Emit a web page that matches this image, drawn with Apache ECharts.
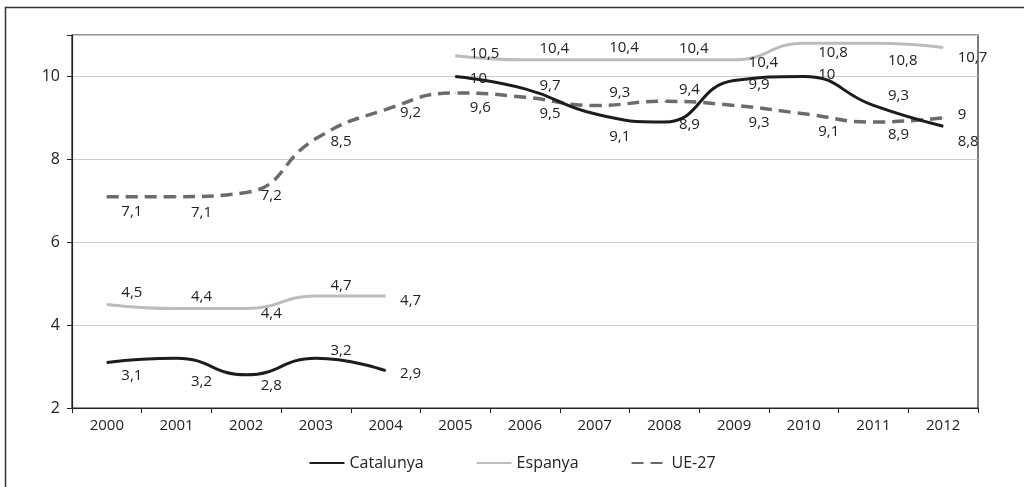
<!DOCTYPE html>
<html>
<head>
<meta charset="utf-8">
<script src="https://cdn.jsdelivr.net/npm/echarts@6/dist/echarts.min.js"></script>
<style>
  html, body { margin: 0; padding: 0; background: #fff; }
  #chart { width: 1024px; height: 487px; }
</style>
</head>
<body>
<div id="chart"></div>
<script>
// Dades del gràfic (valors llegits de la imatge)
const YEARS = ["2000", "2001", "2002", "2003", "2004", "2005", "2006",
  "2007", "2008", "2009", "2010", "2011", "2012"];

// Catalunya i Espanya tenen un tall entre 2004 i 2005
const CATALUNYA_A = [3.1, 3.2, 2.8, 3.2, 2.9, null, null, null, null, null, null, null, null];
const CATALUNYA_B = [null, null, null, null, null, 10, 9.7, 9.1, 8.9, 9.9, 10, 9.3, 8.8];
const ESPANYA_A = [4.5, 4.4, 4.4, 4.7, 4.7, null, null, null, null, null, null, null, null];
const ESPANYA_B = [null, null, null, null, null, 10.5, 10.4, 10.4, 10.4, 10.4, 10.8, 10.8, 10.7];
const UE27 = [7.1, 7.1, 7.2, 8.5, 9.2, 9.6, 9.5, 9.3, 9.4, 9.3, 9.1, 8.9, 9];

const Y_TICKS = [2, 4, 6, 8, 10];

// desplaçament vertical de les etiquetes (com a l'original)
const DY_CAT = [13, 23, 11, -8, 3, 2, -3, 23, 3, 4, -2, -10, 16];
const DY_ESP = [-12, -12, 5, -10, 5, -2, -11, -12, -11, 3, 9, 17, 10];
const DY_UE = [15, 16, 3, 3, 3, 15, 17, -13, -12, 17, 18, 13, -3];

const FONT = "'Open Sans', 'DejaVu Sans', sans-serif";
const TEXT = "#222222";

const C_CAT = "#1c1c1c";
const C_ESP = "#bcbcbc";
const C_UE = "#6b6b6b";

function withLabels(values, dys) {
  return values.map(function (v, i) {
    if (v === null) return null;
    return { value: v, label: { offset: [0, dys[i]] } };
  });
}

const labelCfg = {
  show: true,
  position: "right",
  distance: 14,
  color: TEXT,
  fontFamily: FONT,
  fontSize: 15,
  formatter: function (p) { return String(p.value).replace(".", ","); },
};

function lineSeries(name, values, dys, color, width, type) {
  return {
    name: name,
    type: "line",
    data: withLabels(values, dys),
    smooth: 0.5,
    symbol: "circle",
    symbolSize: 1,
    showSymbol: true,
    connectNulls: false,
    lineStyle: { color: color, width: width, type: type },
    itemStyle: { color: color },
    label: labelCfg,
    z: name === "UE-27" ? 2 : 3,
  };
}

const chart = echarts.init(document.getElementById("chart"));

chart.setOption({
  animation: false,
  backgroundColor: "#ffffff",
  textStyle: { fontFamily: FONT, color: TEXT },
  graphic: [{
    type: "rect",
    shape: { x: 5.5, y: 7.5, width: 1100, height: 600 },
    style: { fill: "none", stroke: "#333", lineWidth: 1.5 },
    silent: true,
  }],
  grid: {
    left: 72, right: 46, top: 35, bottom: 79,
    show: true, borderColor: "#222", borderWidth: 1.2,
  },
  legend: {
    top: 450,
    left: "center",
    itemWidth: 35,
    itemHeight: 10,
    itemGap: 52,
    itemStyle: { opacity: 0 },
    textStyle: { fontFamily: FONT, fontSize: 16, color: TEXT },
    data: ["Catalunya", "Espanya", "UE-27"],
  },
  xAxis: {
    type: "category",
    data: YEARS,
    boundaryGap: true,
    axisLine: { lineStyle: { color: "#222", width: 1.2 } },
    axisTick: { show: true, length: 5, lineStyle: { color: "#222" } },
    axisLabel: { color: TEXT, fontSize: 15, fontFamily: FONT, margin: 10 },
  },
  yAxis: {
    type: "value",
    min: 2,
    max: 11,
    interval: 2,
    axisLine: { show: true, lineStyle: { color: "#222", width: 1.2 } },
    axisTick: { show: true, length: 5, lineStyle: { color: "#222" } },
    axisLabel: {
      color: TEXT, fontSize: 16, fontFamily: FONT, margin: 12,
      formatter: function (v) { return Y_TICKS.indexOf(v) >= 0 ? String(v) : ""; },
    },
    splitLine: { lineStyle: { color: "#cbcbcb", width: 1.2 } },
  },
  series: [
    lineSeries("Catalunya", CATALUNYA_A, DY_CAT, C_CAT, 3, "solid"),
    lineSeries("Catalunya", CATALUNYA_B, DY_CAT, C_CAT, 3, "solid"),
    lineSeries("Espanya", ESPANYA_A, DY_ESP, C_ESP, 3, "solid"),
    lineSeries("Espanya", ESPANYA_B, DY_ESP, C_ESP, 3, "solid"),
    lineSeries("UE-27", UE27, DY_UE, C_UE, 3.5, [12, 7]),
  ],
});
</script>
</body>
</html>
